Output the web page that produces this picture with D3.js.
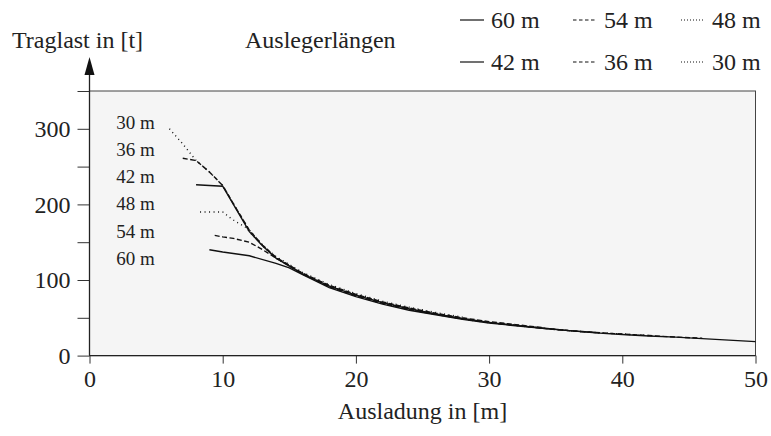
<!DOCTYPE html>
<html>
<head>
<meta charset="utf-8">
<script src="https://cdn.jsdelivr.net/npm/d3@7"></script>
<style>
  body { margin: 0; background: #fff; }
  svg text { font-family: "Liberation Serif", "Times New Roman", serif; fill: #222; }
</style>
</head>
<body>
<div class="chart"></div>
<script>
// Tragfähigkeit je Auslegerlänge: [Ausladung m, Traglast t]
const boom30 = [[6, 300], [7, 280], [8, 258], [9, 243], [10, 225], [11, 195], [12, 166], [13, 146], [14, 131], [16, 110], [18, 94], [20, 82], [22, 72], [24, 64], [26, 57], [28, 51]]
const boom36 = [[7, 261], [8, 258], [9, 243], [10, 225], [11, 195], [12, 166], [13, 146], [14, 130], [16, 109], [18, 93], [20, 81], [22, 71], [24, 63], [26, 56], [28, 50], [30, 45], [32, 41], [34, 37]]
const boom42 = [[8, 226], [10, 224], [11, 194], [12, 164], [13, 145], [14, 129], [16, 108], [18, 92], [20, 80], [22, 70], [24, 62], [26, 55], [28, 49], [30, 44], [32, 40], [34, 36.5], [36, 33], [38, 30.5]]
const boom48 = [[8.3, 190], [10, 190], [10.5, 183], [11, 177], [11.7, 170], [12, 164], [13, 145], [14, 129], [16, 108], [18, 92], [20, 80], [22, 70], [24, 62], [26, 55], [28, 49], [30, 44], [32, 40], [34, 36.5], [36, 33], [38, 30.5], [40, 28.5], [42, 26.5]]
const boom54 = [[9.4, 159], [10, 157], [10.8, 155], [12, 150], [13, 140], [14, 129], [16, 108], [18, 91], [20, 79], [22, 69], [24, 61], [26, 54.5], [28, 48.5], [30, 43.5], [32, 40], [34, 36], [36, 33], [38, 30.5], [40, 28.5], [42, 26.5], [44, 24.5], [46, 23]]
const boom60 = [[9, 140], [10, 137], [12, 132], [14, 122], [15, 116], [16, 107], [18, 90], [20, 78], [22, 68], [24, 60], [26, 54], [28, 48], [30, 43], [32, 39.5], [34, 36], [36, 33], [38, 30], [40, 28], [42, 26], [44, 24.5], [46, 22.5], [48, 20.5], [50, 18.5]]

const boomNames = ["60 m", "54 m", "48 m", "42 m", "36 m", "30 m"]
const boomSeries = [boom60, boom54, boom48, boom42, boom36, boom30]
const boomStyles = ["solid", "dashed", "dotted", "solid", "dashed", "dotted"]

// beschriftung links im Diagramm (von oben nach unten)
const labelNames = ["30 m", "36 m", "42 m", "48 m", "54 m", "60 m"]
const labelLoads = [309, 273, 237, 201, 165, 129]

const xTicks = [0, 10, 20, 30, 40, 50]
const yTicks = [0, 50, 100, 150, 200, 250, 300, 350]

const dashes = { solid: null, dashed: "5,2.5", dotted: "1,3.5" }

const width = 771
const height = 436
const margin = { top: 91, right: 15.5, bottom: 80.4, left: 89.5 }
const boundedWidth = width - margin.left - margin.right
const boundedHeight = height - margin.top - margin.bottom

const svg = d3.select(".chart")
  .append("svg")
  .attr("width", width)
  .attr("height", height)

const bounds = svg.append("g")
  .attr("transform", `translate(${margin.left},${margin.top})`)

const xScale = d3.scaleLinear()
  .domain([0, 50])
  .range([0, boundedWidth])

const yScale = d3.scaleLinear()
  .domain([0, 350])
  .range([boundedHeight, 0])

// Hintergrund
bounds.append("rect")
  .attr("width", boundedWidth)
  .attr("height", boundedHeight)
  .attr("fill", "#f5f5f5")
  .attr("stroke", "#444")
  .attr("stroke-width", 1)

const lineGenerator = d3.line()
  .x(d => xScale(d[0]))
  .y(d => yScale(d[1]))

bounds.selectAll(".boom")
  .data(boomSeries)
  .enter().append("path")
  .attr("class", "boom")
  .attr("d", lineGenerator)
  .attr("fill", "none")
  .attr("stroke", "#111")
  .attr("stroke-width", 1.4)
  .attr("stroke-dasharray", (d, i) => dashes[boomStyles[i]])

bounds.selectAll(".boomLabel")
  .data(labelNames)
  .enter().append("text")
  .attr("class", "boomLabel")
  .attr("x", xScale(2))
  .attr("y", (d, i) => yScale(labelLoads[i]))
  .attr("dy", "0.35em")
  .style("font-size", "19px")
  .text(d => d)

// Achsen
const xAxis = bounds.append("g")
  .attr("transform", `translate(0,${boundedHeight})`)
  .call(d3.axisBottom(xScale).tickValues(xTicks).tickSize(8).tickPadding(6))

const yAxis = bounds.append("g")
  .call(d3.axisLeft(yScale).tickValues(yTicks).tickSize(12).tickPadding(7)
    .tickFormat(d => d % 100 === 0 ? d : ""))

svg.selectAll(".domain").remove()
svg.selectAll(".tick line").attr("stroke", "#333")
svg.selectAll(".tick text")
  .style("font-size", "24px")
  .style("font-family", "'Liberation Serif', serif")
  .attr("fill", "#222")

// y-Achse mit Pfeil
bounds.append("line")
  .attr("x1", 0).attr("x2", 0)
  .attr("y1", boundedHeight)
  .attr("y2", -18)
  .attr("stroke", "#222")
  .attr("stroke-width", 1.3)
bounds.append("path")
  .attr("d", "M-5,-16 L5,-16 L0,-34 Z")
  .attr("fill", "#111")

bounds.append("line")
  .attr("x1", 0).attr("x2", boundedWidth)
  .attr("y1", boundedHeight).attr("y2", boundedHeight)
  .attr("stroke", "#222")
  .attr("stroke-width", 1.3)

svg.append("text")
  .attr("x", margin.left + boundedWidth / 2)
  .attr("y", 419)
  .attr("text-anchor", "middle")
  .style("font-size", "24px")
  .text("Ausladung in [m]")

svg.append("text")
  .attr("x", 12)
  .attr("y", 48)
  .style("font-size", "24px")
  .text("Traglast in [t]")

svg.append("text")
  .attr("x", 245)
  .attr("y", 48)
  .style("font-size", "24px")
  .text("Auslegerlängen")

// Legende
const legendCols = [460, 573, 681]
const legendRows = [20, 62]
const legendOrder = [0, 1, 2, 3, 4, 5]

const legend = svg.selectAll(".legendItem")
  .data(legendOrder)
  .enter().append("g")
  .attr("class", "legendItem")
  .attr("transform", i => `translate(${legendCols[i % 3]},${legendRows[Math.floor(i / 3)]})`)

legend.append("line")
  .attr("x1", 0).attr("x2", 24)
  .attr("stroke", "#111")
  .attr("stroke-width", 1.2)
  .attr("stroke-dasharray", i => boomStyles[i] === "dashed" ? "3.5,2.5" : boomStyles[i] === "dotted" ? "1,2" : null)

legend.append("text")
  .attr("x", 31)
  .attr("dy", "0.35em")
  .style("font-size", "24px")
  .text(i => boomNames[i])
</script>
</body>
</html>
